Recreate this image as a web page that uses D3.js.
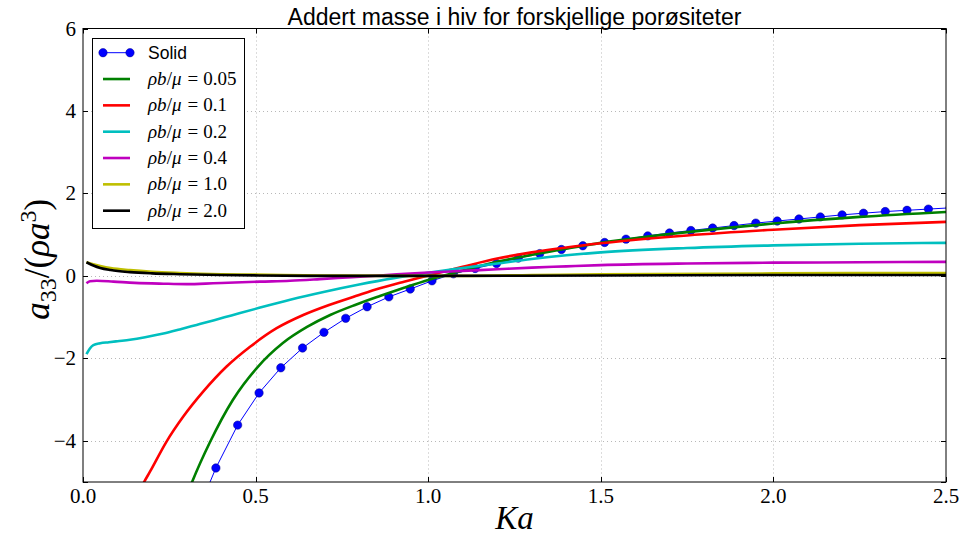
<!DOCTYPE html>
<html>
<head>
<meta charset="utf-8">
<script src="https://cdn.jsdelivr.net/npm/d3@7"></script>
<style>
  html, body { margin: 0; padding: 0; background: #fff; }
  svg { display: block; }
  .tick-label { font-family: "Liberation Serif", serif; font-size: 21px; fill: #000; }
  .math { font-family: "Liberation Serif", serif; }
</style>
</head>
<body>
<svg id="chart" width="963" height="538"></svg>
<script>
// Added mass in heave, a33/(rho a^3), versus Ka for several porosities

const xTicks = [0.0, 0.5, 1.0, 1.5, 2.0, 2.5];
const yTicks = [-4, -2, 0, 2, 4, 6];
const xTickLabels = ["0.0", "0.5", "1.0", "1.5", "2.0", "2.5"];
const yTickLabels = ["\u22124", "\u22122", "0", "2", "4", "6"];

// Solid (impermeable) body: computed points shown as markers
const solidKa = [0.322, 0.385, 0.448, 0.510, 0.573, 0.636, 0.698, 0.761, 0.823, 0.886,
                 0.948, 1.011, 1.073, 1.136, 1.198, 1.261, 1.323, 1.386, 1.448, 1.511,
                 1.573, 1.636, 1.699, 1.761, 1.824, 1.886, 1.949, 2.011, 2.074, 2.136,
                 2.199, 2.261, 2.324, 2.387, 2.449, 2.512];
const solidA33 = [-5.92, -4.66, -3.62, -2.84, -2.23, -1.75, -1.37, -1.03, -0.75, -0.51,
                  -0.32, -0.12, 0.05, 0.18, 0.30, 0.43, 0.54, 0.64, 0.73, 0.81,
                  0.89, 0.97, 1.04, 1.10, 1.16, 1.22, 1.28, 1.33, 1.38, 1.43,
                  1.48, 1.52, 1.56, 1.59, 1.62, 1.65];

// Porous bodies, rho*b/mu = 0.05
const ka005 = [0.30, 0.316, 0.368, 0.434, 0.504, 0.579, 0.649, 0.716, 0.79, 0.86, 0.93, 1.0,
               1.1, 1.2, 1.3, 1.4, 1.5, 1.625, 1.75, 1.875, 2.0, 2.25, 2.5];
const a005 = [-5.34, -5.0, -4.03, -3.01, -2.23, -1.63, -1.24, -0.95, -0.70, -0.49, -0.29, -0.10,
              0.13, 0.34, 0.51, 0.66, 0.80, 0.94, 1.06, 1.17, 1.27, 1.43, 1.55];

// rho*b/mu = 0.1
const ka01 = [0.16, 0.177, 0.194, 0.242, 0.29, 0.348, 0.416, 0.484, 0.561, 0.638, 0.715, 0.79,
              0.86, 0.93, 1.0, 1.1, 1.2, 1.3, 1.4, 1.5, 1.75, 2.0, 2.25, 2.5];
const a01 = [-5.27, -5.0, -4.75, -4.02, -3.42, -2.81, -2.20, -1.72, -1.27, -0.95, -0.70, -0.49,
             -0.30, -0.14, 0.01, 0.22, 0.42, 0.57, 0.69, 0.79, 0.98, 1.12, 1.23, 1.31];

// rho*b/mu = 0.2
const ka02 = [0.01, 0.02, 0.03, 0.05, 0.075, 0.10, 0.136, 0.18, 0.233, 0.28, 0.329, 0.38, 0.43,
              0.513, 0.6, 0.7, 0.8, 0.9, 1.0, 1.1, 1.2, 1.3, 1.4, 1.5, 1.75, 2.0, 2.25, 2.5];
const a02 = [-1.90, -1.76, -1.68, -1.635, -1.61, -1.585, -1.55, -1.49, -1.40, -1.30, -1.19, -1.075, -0.96,
             -0.77, -0.58, -0.385, -0.21, -0.055, 0.075, 0.19, 0.30, 0.41, 0.50, 0.57, 0.675, 0.74, 0.78, 0.80];

// rho*b/mu = 0.4
const ka04 = [0.01, 0.02, 0.04, 0.088, 0.15, 0.233, 0.30, 0.377, 0.44, 0.513, 0.60, 0.686, 0.78,
              0.86, 1.0, 1.1, 1.2, 1.3, 1.4, 1.5, 1.75, 2.0, 2.25, 2.5];
const a04 = [-0.18, -0.13, -0.12, -0.14, -0.17, -0.19, -0.20, -0.18, -0.16, -0.14, -0.12, -0.08, -0.03,
             0.01, 0.08, 0.12, 0.16, 0.20, 0.23, 0.26, 0.30, 0.32, 0.33, 0.34];

// rho*b/mu = 1.0
const ka10 = [0.01, 0.03, 0.05, 0.08, 0.136, 0.2, 0.28, 0.4, 0.5, 0.7, 0.9, 1.1, 1.3, 1.5, 2.0, 2.5];
const a10 = [0.33, 0.28, 0.24, 0.19, 0.14, 0.10, 0.07, 0.04, 0.03, 0.01, 0.0, 0.0, 0.02, 0.04, 0.06, 0.07];

// rho*b/mu = 2.0
const ka20 = [0.01, 0.03, 0.05, 0.08, 0.136, 0.2, 0.28, 0.4, 0.51, 0.7, 1.0, 1.5, 2.0, 2.5];
const a20 = [0.33, 0.25, 0.19, 0.14, 0.09, 0.06, 0.04, 0.02, 0.01, 0.0, 0.0, 0.01, 0.02, 0.02];

const seriesValues = ["0.05", "0.1", "0.2", "0.4", "1.0", "2.0"];
const seriesColors = ["#008000", "#ff0000", "#00bfbf", "#bf00bf", "#bfbf00", "#000000"];
const seriesKa = [ka005, ka01, ka02, ka04, ka10, ka20];
const seriesA = [a005, a01, a02, a04, a10, a20];

const titleText = "Addert masse i hiv for forskjellige por\u00F8siteter";

(function draw() {
  const svg = d3.select("#chart");
  const pl = 83, pr = 946, pt = 28.5, pb = 482;
  const x = d3.scaleLinear().domain([0, 2.5]).range([pl, pr]);
  const y = d3.scaleLinear().domain([-5, 6]).range([pb, pt]);

  svg.append("defs").append("clipPath").attr("id", "plot-clip")
    .append("rect").attr("x", pl).attr("y", pt)
    .attr("width", pr - pl).attr("height", pb - pt);

  // grid
  const grid = svg.append("g").attr("stroke", "#b8b8b8").attr("stroke-width", 1)
    .attr("stroke-dasharray", "1,3");
  grid.selectAll(".gx").data(xTicks.slice(1, -1)).join("line")
    .attr("x1", d => Math.round(x(d)) + 0.5).attr("x2", d => Math.round(x(d)) + 0.5)
    .attr("y1", pt).attr("y2", pb);
  grid.selectAll(".gy").data(yTicks.filter(d => d !== 6)).join("line")
    .attr("y1", d => Math.round(y(d)) + 0.5).attr("y2", d => Math.round(y(d)) + 0.5)
    .attr("x1", pl).attr("x2", pr);

  // curves
  const plot = svg.append("g").attr("clip-path", "url(#plot-clip)");

  const solidPts = solidKa.map((k, i) => [k, solidA33[i]]);
  plot.append("path").datum(solidPts)
    .attr("fill", "none").attr("stroke", "#0000ff").attr("stroke-width", 1)
    .attr("d", d3.line().x(d => x(d[0])).y(d => y(d[1])));
  plot.selectAll(".dot").data(solidPts).join("circle")
    .attr("cx", d => x(d[0])).attr("cy", d => y(d[1])).attr("r", 4.2)
    .attr("fill", "#0000ff").attr("stroke", "#00008a").attr("stroke-width", 0.5);

  const curve = d3.line().x(d => x(d[0])).y(d => y(d[1])).curve(d3.curveMonotoneX);
  seriesKa.forEach((ks, s) => {
    const pts = ks.map((k, i) => [k, seriesA[s][i]]);
    plot.append("path").datum(pts)
      .attr("fill", "none").attr("stroke", seriesColors[s]).attr("stroke-width", 2.6)
      .attr("stroke-linejoin", "round")
      .attr("d", curve);
  });

  // frame and inward ticks
  svg.append("rect").attr("x", pl).attr("y", pt)
    .attr("width", pr - pl).attr("height", pb - pt)
    .attr("fill", "none").attr("stroke", "#000").attr("stroke-width", 1);

  const tickLen = 5;
  const ticks = svg.append("g").attr("stroke", "#000").attr("stroke-width", 1);
  xTicks.forEach(t => {
    const px = Math.round(x(t)) + 0.5;
    ticks.append("line").attr("x1", px).attr("x2", px).attr("y1", pb).attr("y2", pb - tickLen);
    ticks.append("line").attr("x1", px).attr("x2", px).attr("y1", pt).attr("y2", pt + tickLen);
  });
  yTicks.concat([-5]).forEach(t => {
    const py = Math.round(y(t)) + 0.5;
    ticks.append("line").attr("y1", py).attr("y2", py).attr("x1", pl).attr("x2", pl + tickLen);
    ticks.append("line").attr("y1", py).attr("y2", py).attr("x1", pr).attr("x2", pr - tickLen);
  });

  // tick labels
  svg.append("g").selectAll("text").data(xTicks).join("text")
    .attr("class", "tick-label")
    .attr("x", d => x(d)).attr("y", pb + 21)
    .attr("text-anchor", "middle")
    .text((d, i) => xTickLabels[i]);
  svg.append("g").selectAll("text").data(yTicks).join("text")
    .attr("class", "tick-label")
    .attr("x", pl - 7).attr("y", d => y(d) + 7)
    .attr("text-anchor", "end")
    .text((d, i) => yTickLabels[i]);

  // axis titles
  svg.append("text").attr("class", "math")
    .attr("x", (pl + pr) / 2).attr("y", 529)
    .attr("text-anchor", "middle").attr("font-size", 33).attr("font-style", "italic")
    .text("Ka");

  const yl = svg.append("text").attr("class", "math")
    .attr("transform", `translate(49,${(pt + pb) / 2 + 4}) rotate(-90)`)
    .attr("text-anchor", "middle").attr("font-size", 35);
  yl.append("tspan").attr("font-style", "italic").text("a");
  yl.append("tspan").attr("font-size", 24).attr("dy", 7).text("33");
  yl.append("tspan").attr("dy", -7).text("/(");
  yl.append("tspan").attr("font-style", "italic").text("\u03C1a");
  yl.append("tspan").attr("font-size", 24).attr("dy", -13).text("3");
  yl.append("tspan").attr("dy", 13).text(")");

  // title
  svg.append("text")
    .attr("x", (pl + pr) / 2).attr("y", 25)
    .attr("text-anchor", "middle")
    .attr("font-family", "Liberation Sans, Arial, sans-serif").attr("font-size", 23)
    .text(titleText);

  // legend
  const lg = svg.append("g");
  lg.append("rect").attr("x", 92.5).attr("y", 38.5).attr("width", 152).attr("height", 190)
    .attr("fill", "#fff").attr("stroke", "#000").attr("stroke-width", 1);
  const rowY = i => 52.7 + i * 26.33;
  const sx0 = 103, sx1 = 130, tx = 148;

  lg.append("line").attr("x1", sx0).attr("x2", sx1).attr("y1", rowY(0)).attr("y2", rowY(0))
    .attr("stroke", "#0000ff").attr("stroke-width", 1);
  [sx0, sx1].forEach(px => lg.append("circle").attr("cx", px).attr("cy", rowY(0)).attr("r", 4.2)
    .attr("fill", "#0000ff").attr("stroke", "#00008a").attr("stroke-width", 0.5));
  lg.append("text").attr("x", tx).attr("y", rowY(0) + 6)
    .attr("font-family", "Liberation Sans, Arial, sans-serif").attr("font-size", 17.5)
    .text("Solid");

  seriesValues.forEach((val, s) => {
    const yy = rowY(s + 1);
    lg.append("line").attr("x1", sx0).attr("x2", sx1).attr("y1", yy).attr("y2", yy)
      .attr("stroke", seriesColors[s]).attr("stroke-width", 2.6);
    const t = lg.append("text").attr("class", "math").attr("x", tx).attr("y", yy + 6)
      .attr("font-size", 19);
    t.append("tspan").attr("font-style", "italic").text("\u03C1b");
    t.append("tspan").text("/");
    t.append("tspan").attr("font-style", "italic").text("\u03BC");
    t.append("tspan").attr("dx", 6).text("=");
    t.append("tspan").attr("dx", 5).text(val);
  });
})();
</script>
</body>
</html>
